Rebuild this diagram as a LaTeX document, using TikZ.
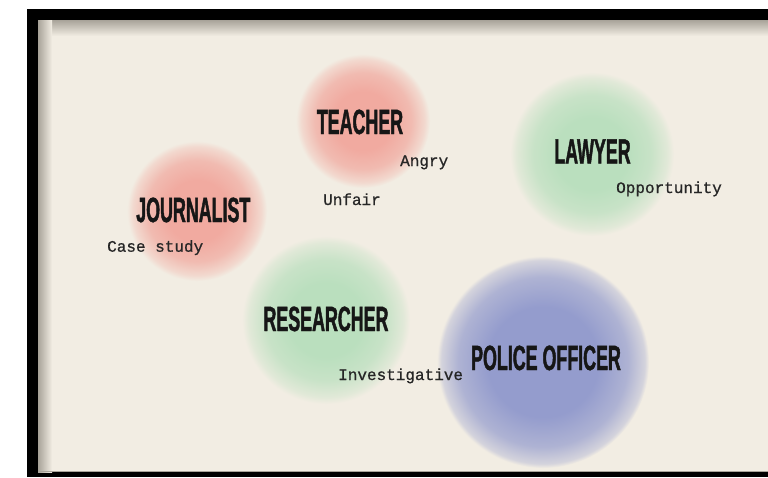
\documentclass[tikz,border=0pt]{standalone}
\usepackage{fontspec}
\setmainfont{Liberation Sans}
\newfontfamily\headfont[FakeStretch=0.51,BoldFeatures={FakeBold=1.2}]{Liberation Sans}
\newfontfamily\typefont[FakeBold=0.8]{Liberation Mono}
\definecolor{bgc}{RGB}{242,237,227}
\definecolor{shadowc}{RGB}{168,163,153}
\definecolor{pinkc}{RGB}{241,170,160}
\definecolor{greenc}{RGB}{186,223,190}
\definecolor{bluec}{RGB}{148,156,205}
\definecolor{headc}{RGB}{22,22,22}
\definecolor{typec}{RGB}{38,38,38}
\pgfdeclareradialshading{pinkblob}{\pgfpoint{0bp}{0bp}}{color(0bp)=(pinkc);color(11bp)=(pinkc);color(18bp)=(pinkc!75!bgc);color(23bp)=(pinkc!30!bgc);color(25bp)=(bgc);color(50bp)=(bgc)}
\pgfdeclareradialshading{greenblob}{\pgfpoint{0bp}{0bp}}{color(0bp)=(greenc);color(11bp)=(greenc);color(18bp)=(greenc!75!bgc);color(23bp)=(greenc!30!bgc);color(25bp)=(bgc);color(50bp)=(bgc)}
\pgfdeclareradialshading{blueblob}{\pgfpoint{0bp}{0bp}}{color(0bp)=(bluec);color(13bp)=(bluec);color(20bp)=(bluec!72!bgc);color(24bp)=(bluec!32!bgc);color(25bp)=(bgc);color(50bp)=(bgc)}
\tikzset{
  blob/.style={circle, inner sep=0pt, draw=none},
  head/.style={font=\headfont\bfseries\fontsize{35}{35}\selectfont, text=headc, inner sep=0pt, anchor=base},
  word/.style={font=\typefont\fontsize{16}{18}\selectfont, text=typec, inner sep=0pt, anchor=base west}
}
\begin{document}
\begin{tikzpicture}[x=1pt,y=-1pt]
\useasboundingbox (0,0) rectangle (768,477);
\fill[white] (0,0) rectangle (768,477);
\fill[black] (27,9) rectangle (768,477);
\fill[bgc] (38,20) rectangle (768,472);
\shade[top color=shadowc, bottom color=bgc] (38,20) rectangle (768,36);
\shade[left color=shadowc, right color=bgc] (38,20) rectangle (52,472);
\fill[shadowc] (38,470.8) rectangle (768,472);
% circles
\node[blob, minimum size=134pt, shading=pinkblob] (teacherc) at (363,121) {};
\node[blob, minimum size=140pt, shading=pinkblob] (journalistc) at (197,211) {};
\node[blob, minimum size=164pt, shading=greenblob] (lawyerc) at (592,154) {};
\node[blob, minimum size=168pt, shading=greenblob] (researcherc) at (326,320) {};
\node[blob, minimum size=212pt, shading=blueblob] (policec) at (543,362) {};
% headings
\node[head] (teacher) at (360,134) {TEACHER};
\node[head] (journalist) at (193.3,222) {JOURNALIST};
\node[head] (lawyer) at (592.5,163.5) {LAWYER};
\node[head] (researcher) at (326,331) {RESEARCHER};
\node[head] (police) at (546,370) {POLICE OFFICER};
% words
\node[word] (angry) at (400,166) {Angry};
\node[word] (unfair) at (323,205) {Unfair};
\node[word] (case) at (107,251.7) {Case study};
\node[word] (opp) at (616,193) {Opportunity};
\node[word] (invest) at (338,380) {Investigative};
\end{tikzpicture}
\end{document}
